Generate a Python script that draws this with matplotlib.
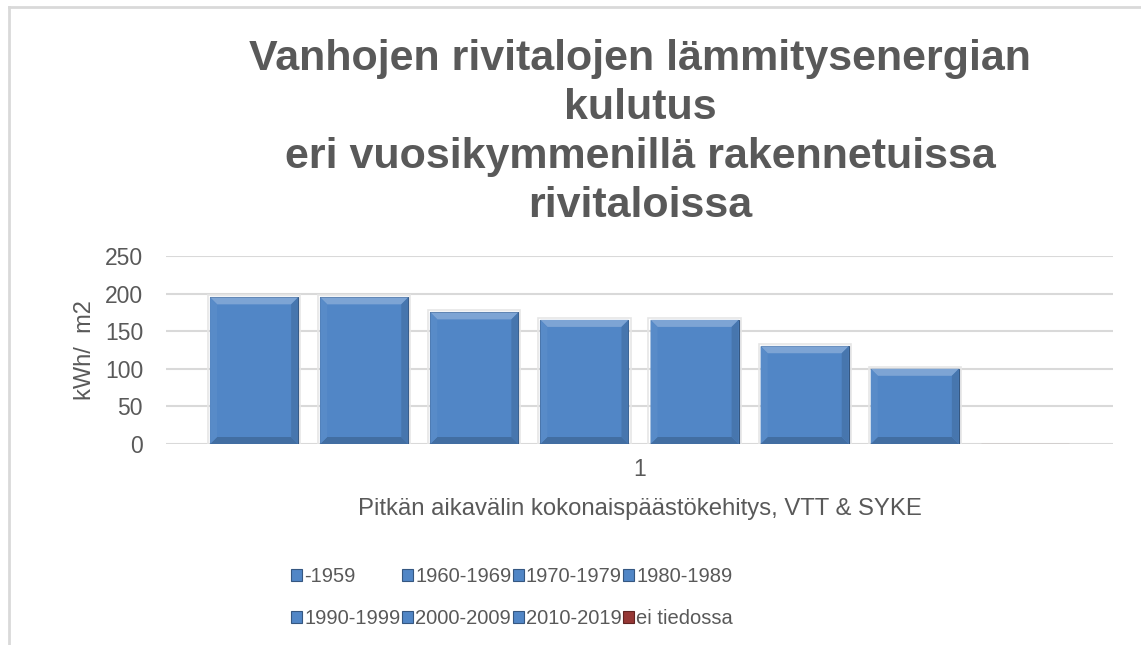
import numpy as np
import matplotlib.pyplot as plt
from matplotlib.patches import Polygon, Patch
from matplotlib.lines import Line2D

plt.rcParams['font.family'] = ['Liberation Sans', 'DejaVu Sans']

# Data
series = ["-1959", "1960-1969", "1970-1979", "1980-1989",
          "1990-1999", "2000-2009", "2010-2019", "ei tiedossa"]
values = [195, 195, 175, 165, 165, 130, 100, 0]
categories = ["1"]
yticks = [0, 50, 100, 150, 200, 250]

title = ("Vanhojen rivitalojen lämmitysenergian\nkulutus\n"
         "eri vuosikymmenillä rakennetuissa\nrivitaloissa")
xlabel = "Pitkän aikavälin kokonaispäästökehitys, VTT & SYKE"
ylabel = "kWh/  m2"

blue = "#5186C6"
red = "#953735"
colors = [blue] * 7 + [red]
text_col = "#595959"
grid_col = "#D9D9D9"

W, H = 1141, 645
fig = plt.figure(figsize=(W / 100, H / 100), dpi=100)
ax = fig.add_axes([166 / W, 1 - 444 / H, (1113 - 166) / W, (444 - 256) / H])

# bar layout: width 1, pitch 1.25, groups centred on the category
width = 1.0
pitch = 1.25
n = len(series)


def shade(c, f):
    c = np.array(plt.matplotlib.colors.to_rgb(c))
    if f >= 0:
        return tuple(c + (1 - c) * f)
    return tuple(c * (1 + f))


def add_bevel(ax, rect, color):
    x0, y0 = rect.get_x(), rect.get_y()
    w, h = rect.get_width(), rect.get_height()
    if h <= 0:
        return
    # bevel size of ~7 px expressed in data units
    to_px = ax.transData.transform
    px_x = (to_px((1, 0))[0] - to_px((0, 0))[0])
    px_y = (to_px((0, 1))[1] - to_px((0, 0))[1])
    bx = 7 / px_x
    by = 7 / px_y
    x1, y1 = x0 + w, y0 + h
    faces = [
        ([(x0, y1), (x1, y1), (x1 - bx, y1 - by), (x0 + bx, y1 - by)], shade(color, 0.25)),
        ([(x0, y0), (x1, y0), (x1 - bx, y0 + by), (x0 + bx, y0 + by)], shade(color, -0.18)),
        ([(x0, y0), (x0, y1), (x0 + bx, y1 - by), (x0 + bx, y0 + by)], shade(color, 0.04)),
        ([(x1, y0), (x1, y1), (x1 - bx, y1 - by), (x1 - bx, y0 + by)], shade(color, -0.12)),
    ]
    for pts, fc in faces:
        ax.add_patch(Polygon(pts, closed=True, facecolor=fc, edgecolor='none', zorder=3))
    # soft shadow
    ax.add_patch(plt.Rectangle((x0 - 0.3 * bx, y0 - 0.3 * by), w + 0.6 * bx, h + 0.6 * by,
                               facecolor='none', edgecolor='#E6E6E6', lw=1.2, zorder=2.5))


ax.set_xlim(-5.375, 5.375)
ax.set_ylim(0, 250)

for i, (name, v, c) in enumerate(zip(series, values, colors)):
    xpos = (i - (n - 1) / 2) * pitch
    bars = ax.bar(xpos, v, width=width, color=c, edgecolor=shade(c, -0.35),
                  linewidth=0.8, label=name, zorder=3)
    for r in bars:
        add_bevel(ax, r, c)

ax.set_yticks(yticks)
ax.set_xticks([0])
ax.set_xticklabels(categories)
ax.yaxis.grid(True, color=grid_col, linewidth=1.5)
ax.set_axisbelow(True)
for s in ax.spines.values():
    s.set_visible(False)
ax.tick_params(axis='both', length=0, labelsize=16.5, colors=text_col)
ax.tick_params(axis='y', pad=16.5)
ax.tick_params(axis='x', pad=10)
ax.set_xlabel(xlabel, fontsize=17.2, color=text_col, labelpad=12)
ax.set_ylabel(ylabel, fontsize=17, color=text_col, labelpad=6.5)

fig.text(640 / W, 1 - 39 / H, title, ha='center', va='top', fontsize=31,
         fontweight='bold', color=text_col, linespacing=1.29)

# legend filled row by row, as in the source chart
ncol = 4
nrow = 2
order = [r * ncol + c for c in range(ncol) for r in range(nrow)]
handles = [Patch(facecolor=c, edgecolor=shade(c, -0.35), linewidth=0.8) for c in colors]
fig.legend([handles[k] for k in order], [series[k] for k in order],
           loc='upper left', bbox_to_anchor=(291 / W, 1 - 567 / H),
           ncol=ncol, frameon=False, fontsize=14.5, handlelength=0.55, handleheight=0.55,
           handletextpad=0.12, columnspacing=0.05, labelspacing=1.15,
           labelcolor=text_col, borderpad=0, borderaxespad=0)

# chart border (only left and top visible in the crop)
fig.add_artist(Line2D([9 / W, 9 / W], [0, 1 - 7 / H], transform=fig.transFigure,
                      color=grid_col, lw=2))
fig.add_artist(Line2D([9 / W, 1], [1 - 7 / H, 1 - 7 / H], transform=fig.transFigure,
                      color=grid_col, lw=2))

fig.savefig("out.png", dpi=100, facecolor='white')
